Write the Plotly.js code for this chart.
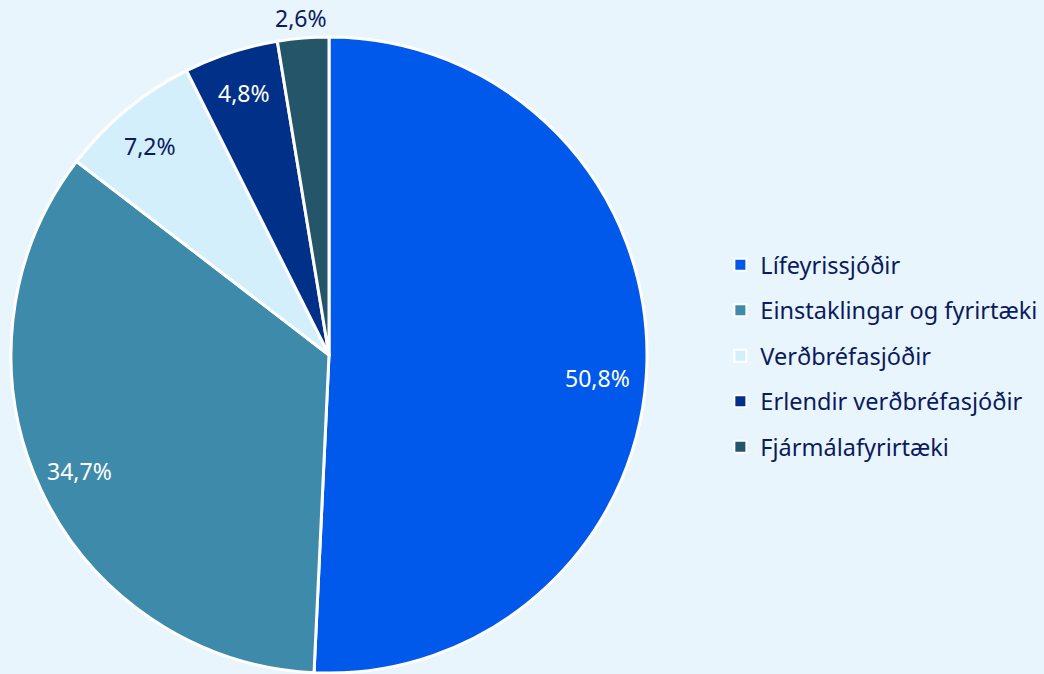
<!DOCTYPE html>
<html>
<head>
<meta charset="utf-8">
<script src="https://cdn.plot.ly/plotly-3.0.1.min.js"></script>
<style>
html,body{margin:0;padding:0;background:#e9f5fc;}
#chart{width:1044px;height:674px;}
</style>
</head>
<body>
<div id="chart"></div>
<script>
const categories = ["Lífeyrissjóðir", "Einstaklingar og fyrirtæki", "Verðbréfasjóðir", "Erlendir verðbréfasjóðir", "Fjármálafyrirtæki"];
const values = [50.8, 34.7, 7.2, 4.8, 2.6];
const valueLabels = ["50,8%", "34,7%", "7,2%", "4,8%", "2,6%"];
const colors = ["#0059eb", "#3d8aab", "#d4effc", "#003087", "#245568"];
const labelInside = [true, true, true, true, false];
const labelColors = ["#ffffff", "#ffffff", "#0b1b5e", "#ffffff", "#0b1b5e"];

// small per-label nudges (px) to mimic the original label placement
const labelNudge = [[-6, 17], [0, 0], [-4, 3], [0, 0], [0, 0]];

const W = 1044, H = 674;
const FONT = 'Noto Sans, Open Sans, sans-serif';
const dom = {x: [11 / W, 647 / W], y: [1 - 673 / H, 1 - 37 / H]};
const cxPx = (dom.x[0] + dom.x[1]) / 2 * W;
const cyPx = (1 - (dom.y[0] + dom.y[1]) / 2) * H;
const rPx = (dom.x[1] - dom.x[0]) * W / 2;

const total = values.reduce((a, b) => a + b, 0);
let cum = 0;
const annotations = values.map((v, i) => {
  const mid = (cum + v / 2) / total * 2 * Math.PI;
  cum += v;
  const f = labelInside[i] ? 0.865 : 1.062;
  const px = cxPx + rPx * f * Math.sin(mid) + labelNudge[i][0];
  const py = cyPx - rPx * f * Math.cos(mid) + labelNudge[i][1];
  return {
    xref: 'paper', yref: 'paper', x: px / W, y: 1 - py / H,
    text: valueLabels[i], showarrow: false,
    xanchor: 'center', yanchor: 'middle',
    font: {family: FONT, size: 23, color: labelColors[i]}
  };
});

const pie = {
  type: 'pie',
  labels: categories,
  values: values,
  sort: false,
  direction: 'clockwise',
  rotation: 0,
  textinfo: 'none',
  showlegend: false,
  marker: {colors: colors, line: {color: '#ffffff', width: 3}},
  domain: dom
};

const legendTraces = categories.map((c, i) => ({
  type: 'scatter',
  mode: 'markers',
  x: [null], y: [null],
  name: c,
  legendgroup: 'g' + i,
  showlegend: true,
  marker: {symbol: 'square', size: 12, color: colors[i], line: {color: '#ffffff', width: 2}}
}));

const layout = {
  width: W, height: H,
  margin: {l: 0, r: 0, t: 0, b: 0},
  paper_bgcolor: '#e9f5fc',
  plot_bgcolor: 'rgba(0,0,0,0)',
  xaxis: {visible: false},
  yaxis: {visible: false},
  showlegend: true,
  legend: {
    x: 0.690, y: 0.472, xanchor: 'left', yanchor: 'middle',
    font: {family: FONT, size: 23.5, color: '#0b1b5e'},
    bgcolor: 'rgba(0,0,0,0)',
    tracegroupgap: 12,
    itemwidth: 30
  },
  annotations: annotations
};

Plotly.newPlot('chart', [pie].concat(legendTraces), layout, {displayModeBar: false, staticPlot: true});
</script>
</body>
</html>
